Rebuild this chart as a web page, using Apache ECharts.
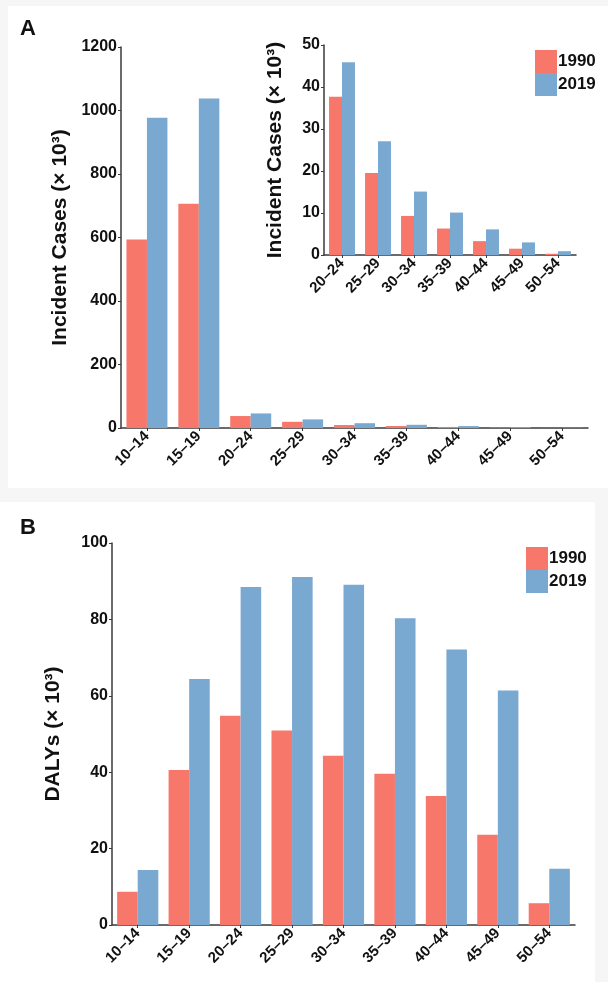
<!DOCTYPE html>
<html>
<head>
<meta charset="utf-8">
<script src="https://cdn.jsdelivr.net/npm/echarts@6/dist/echarts.min.js"></script>
<style>
html,body{margin:0;padding:0;background:#f6f6f6;}
#c{width:608px;height:982px;}
</style>
</head>
<body>
<div id="c"></div>
<script>
var ageAll = ['10–14','15–19','20–24','25–29','30–34','35–39','40–44','45–49','50–54'];
var ageInset = ['20–24','25–29','30–34','35–39','40–44','45–49','50–54'];
var years = ['1990','2019'];

var incid1990 = [594, 706, 37.7, 19.5, 9.3, 6.3, 3.3, 1.5, 0.3];
var incid2019 = [977, 1038, 45.9, 27.1, 15.1, 10.1, 6.1, 3.0, 0.9];
var inset1990 = [37.7, 19.5, 9.3, 6.3, 3.3, 1.5, 0.3];
var inset2019 = [45.9, 27.1, 15.1, 10.1, 6.1, 3.0, 0.9];
var daly1990 = [8.7, 40.6, 54.8, 50.9, 44.3, 39.6, 33.8, 23.6, 5.7];
var daly2019 = [14.4, 64.4, 88.5, 91.1, 89.1, 80.3, 72.1, 61.4, 14.7];

var RED = '#F7786B', BLUE = '#79A8D0', AX = '#3a3a3a';
var FONT = 'Liberation Sans, Arial, sans-serif';

function xAx(idx, data) {
  return {
    type: 'category', gridIndex: idx, data: data,
    axisLine: {show: true, lineStyle: {color: AX, width: 1.5}},
    axisTick: {show: true, length: 3, alignWithLabel: true, lineStyle: {color: AX}},
    axisLabel: {rotate: 45, margin: 6, color: '#111', fontWeight: 'bold', fontSize: 15, fontFamily: FONT, interval: 0}
  };
}
function yAx(idx, max, interval, name, gap) {
  return {
    type: 'value', gridIndex: idx, min: 0, max: max, interval: interval,
    name: name, nameLocation: 'middle', nameGap: gap,
    nameTextStyle: {color: '#111', fontWeight: 'bold', fontSize: 21, fontFamily: FONT},
    axisLine: {show: true, lineStyle: {color: AX, width: 1.5}},
    axisTick: {show: true, length: 3, lineStyle: {color: AX}},
    splitLine: {show: false},
    axisLabel: {color: '#111', fontWeight: 'bold', fontSize: 16, fontFamily: FONT, margin: 4,
      formatter: function (v) { return String(v); }}
  };
}
function bar(name, xi, data, color, gap) {
  return {
    type: 'bar', name: name, xAxisIndex: xi, yAxisIndex: xi, data: data,
    barGap: '0%', barCategoryGap: gap, itemStyle: {color: color}
  };
}
function legend(left, top) {
  return {
    data: years, orient: 'vertical', left: left, top: top,
    icon: 'rect', itemWidth: 22, itemHeight: 23, itemGap: 0,
    selectedMode: false,
    textStyle: {color: '#111', fontWeight: 'bold', fontSize: 17, fontFamily: FONT, padding: [0,0,0,-4]}
  };
}

var chart = echarts.init(document.getElementById('c'), null, {renderer: 'canvas'});
chart.setOption({
  animation: false,
  backgroundColor: '#f6f6f6',
  graphic: [
    {type: 'rect', shape: {x: 8, y: 6, width: 600, height: 482}, style: {fill: '#ffffff'}, z: -10},
    {type: 'rect', shape: {x: 0, y: 502, width: 595, height: 480}, style: {fill: '#ffffff'}, z: -10},
    {type: 'text', left: 20, top: 18, style: {text: 'A', font: 'bold 22px ' + FONT, fill: '#111'}},
    {type: 'text', left: 20, top: 517, style: {text: 'B', font: 'bold 22px ' + FONT, fill: '#111'}}
  ],
  legend: [legend(530, 45), legend(521, 542)],
  grid: [
    {left: 121, top: 47, width: 467, height: 381},
    {left: 324, top: 45, width: 252, height: 210},
    {left: 112, top: 543, width: 463, height: 382}
  ],
  xAxis: [xAx(0, ageAll), xAx(1, ageInset), xAx(2, ageAll)],
  yAxis: [
    yAx(0, 1200, 200, 'Incident Cases (× 10³)', 48),
    yAx(1, 50, 10, 'Incident Cases (× 10³)', 38),
    yAx(2, 100, 20, 'DALYs (× 10³)', 48)
  ],
  series: [
    bar('1990', 0, incid1990, RED, '21%'),
    bar('2019', 0, incid2019, BLUE, '21%'),
    bar('1990', 1, inset1990, RED, '28%'),
    bar('2019', 1, inset2019, BLUE, '28%'),
    bar('1990', 2, daly1990, RED, '20%'),
    bar('2019', 2, daly2019, BLUE, '20%')
  ]
});
</script>
</body>
</html>
